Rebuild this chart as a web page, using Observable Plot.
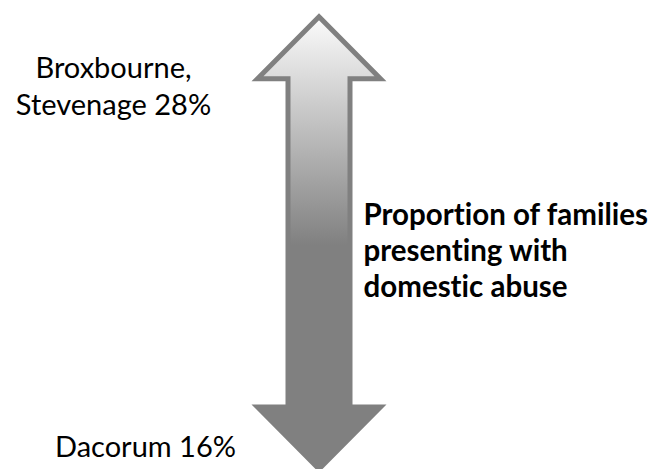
<!DOCTYPE html>
<html><head><meta charset="utf-8">
<script src="https://cdn.jsdelivr.net/npm/d3@7"></script>
<script src="https://cdn.jsdelivr.net/npm/@observablehq/plot@0.6"></script>
<style>html,body{margin:0;padding:0;background:#fff} svg text{font-variant-ligatures:none;font-feature-settings:"liga" 0,"clig" 0;}</style>
</head><body><div id="chart"></div>
<script>
// ---- data ----
const areas = ["Broxbourne,\nStevenage", "Dacorum"];
const shares = [28, 16];            // % of families presenting with domestic abuse
const measureTitle = ["Proportion of families", "presenting with", "domestic abuse"];

// ---- layout / style ----
const W = 655, H = 469, mt = 16.2, mb = 0.5;
const cx = 318.5, shaftHalf = 31, headHalf = 61.5, headPx = 62;
const hi = d3.max(shares), lo = d3.min(shares);
const pxPerPct = (H - mt - mb) / (hi - lo);
const head = headPx / pxPerPct;

// arrow outline built from the two extreme values
const arrowPts = [
  {x: cx, y: hi},
  {x: cx + headHalf, y: hi - head},
  {x: cx + shaftHalf, y: hi - head},
  {x: cx + shaftHalf, y: lo + head},
  {x: cx + headHalf, y: lo + head},
  {x: cx, y: lo},
  {x: cx - headHalf, y: lo + head},
  {x: cx - shaftHalf, y: lo + head},
  {x: cx - shaftHalf, y: hi - head},
  {x: cx - headHalf, y: hi - head}
];

const labels = areas.map((a, i) => ({text: `${a} ${shares[i]}%`, v: shares[i]}));

const chart = Plot.plot({
  width: W, height: H,
  marginTop: mt, marginBottom: mb, marginLeft: 0, marginRight: 0,
  x: {domain: [0, W], axis: null},
  y: {domain: [lo, hi], axis: null},
  style: {fontFamily: "Lato, 'Open Sans', sans-serif", background: "#fff", color: "#000"},
  marks: [
    Plot.line(arrowPts, {x: "x", y: "y", curve: "linear-closed",
      fill: "url(#arrowGrad)", stroke: "#808080", strokeWidth: 5, strokeLinejoin: "miter", strokeMiterlimit: 10}),
    Plot.text([labels[0]], {x: () => 113, y: "v", text: "text", lineAnchor: "bottom",
      dy: 98, fontSize: 29, lineHeight: 1.276, fill: "#000"}),
    Plot.text([labels[1]], {x: () => 145, y: "v", text: "text", lineAnchor: "bottom",
      dy: -12, fontSize: 29, fill: "#000"}),
    Plot.text([measureTitle.join("\n")], {x: () => 363, y: () => (hi + lo) / 2, text: d => d,
      textAnchor: "start", lineAnchor: "bottom", dy: 54, fontSize: 29.5, fontWeight: "bold",
      lineHeight: 1.22, fill: "#000"})
  ]
});

const svg = d3.select(chart);
const grad = svg.insert("defs", ":first-child").append("linearGradient")
  .attr("id", "arrowGrad").attr("x1", 0).attr("y1", 0).attr("x2", 0).attr("y2", 0.506);
grad.append("stop").attr("offset", 0).attr("stop-color", "#fbfbfb");
grad.append("stop").attr("offset", 1).attr("stop-color", "#808080");

document.getElementById("chart").appendChild(chart);
</script>
</body></html>
